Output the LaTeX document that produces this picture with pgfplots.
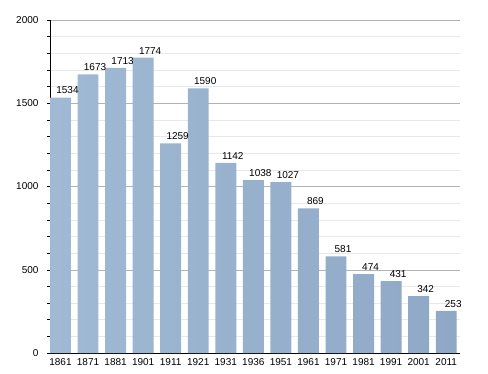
\documentclass[border=0pt]{standalone}
\usepackage{fontspec}
\setmainfont{Liberation Sans}
\usepackage{pgfplots}
\pgfplotsset{compat=1.18}
\definecolor{barc}{RGB}{149,175,203}
\definecolor{barl}{RGB}{160,185,212}
\definecolor{bard}{RGB}{142,168,198}
\begin{document}
\begin{tikzpicture}
\begin{axis}[
  name=ax,
  scale only axis,
  width=410pt, height=333pt,
  xmin=-0.38, xmax=14.5,
  ymin=0, ymax=2000,
  axis x line*=bottom,
  axis y line*=left,
  xtick={0,...,14},
  xticklabels={1861,1871,1881,1901,1911,1921,1931,1936,1951,1961,1971,1981,1991,2001,2011},
  major x tick style={draw=none},
  ytick={0,500,1000,1500,2000},
  minor ytick={100,200,300,400,600,700,800,900,1100,1200,1300,1400,1600,1700,1800,1900},
  ymajorgrids, yminorgrids,
  major grid style={gray!60, line width=0.5pt},
  minor grid style={gray!18, line width=0.5pt},
  tick align=outside,
  major tick length=3pt,
  minor tick length=3pt,
  tick style={black, line width=0.5pt},
  axis line style={black, line width=0.8pt},
  tick label style={font=\fontsize{10}{12}\selectfont},
  /pgf/number format/assume math mode=true,
  /pgf/number format/1000 sep={},
  yticklabel style={xshift=-5pt},
  xticklabel style={yshift=1pt},
  ybar, bar width=0.76, bar shift=0,
  nodes near coords,
  every node near coord/.append style={font=\fontsize{10}{12}\selectfont, xshift=7pt, black, /pgf/number format/1000 sep={}},
]
\addplot[draw=none, left color=barl, right color=bard] coordinates {
(0,1534) (1,1673) (2,1713) (3,1774) (4,1259) (5,1590) (6,1142) (7,1038)
(8,1027) (9,869) (10,581) (11,474) (12,431) (13,342) (14,253)};
\end{axis}
\path[use as bounding box] ([xshift=-50pt,yshift=-20pt]ax.south west) rectangle ([xshift=28pt,yshift=20pt]ax.north east);
\end{tikzpicture}
\end{document}
